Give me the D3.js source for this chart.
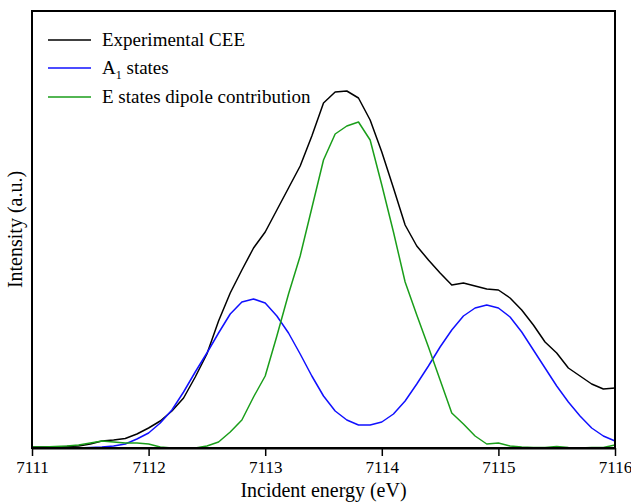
<!DOCTYPE html>
<html>
<head>
<meta charset="utf-8">
<script src="https://cdn.jsdelivr.net/npm/d3@7"></script>
<style>
  body { margin: 0; background: #fff; }
</style>
</head>
<body>
<div class="container"></div>
<script>
// energies 7111.0 .. 7116.0 in 0.1 eV steps
var energies = d3.range(0, 51).map(function(i){ return +(7111 + i * 0.1).toFixed(1); });

var experimental = [0.25,0.25,0.25,0.38,0.5,1.0,1.75,2.0,2.38,3.5,
	5.0,6.75,9.25,12.5,17.75,23.5,31.75,38.75,44.5,50.0,
	54.0,59.5,65.0,70.5,78.0,86.25,89.0,89.25,87.5,82.0,
	74.0,65.0,55.75,50.5,47.0,43.75,40.75,41.25,40.5,39.75,
	39.5,37.5,34.5,30.75,26.5,23.75,20.0,18.0,16.0,14.75,15.0];

var a1States = [0,0,0,0,0,0.13,0.25,0.5,1.0,2.25,
	3.75,6.25,9.5,14.0,19.0,23.75,28.75,33.5,36.5,37.25,
	36.25,33.0,28.75,23.5,18.0,13.0,9.25,7.0,5.75,5.75,
	6.5,8.5,11.75,16.0,20.5,25.25,29.5,33.0,35.0,35.75,
	35.0,32.75,29.0,24.5,20.0,15.5,11.5,8.0,5.0,3.0,1.75];

var eDipole = [0.25,0.25,0.38,0.5,0.75,1.25,1.75,1.5,1.25,1.25,
	1.0,0.25,0,0,0,0.5,1.5,4.0,7.0,12.75,
	18.0,28.0,38.5,48.0,60.0,72.0,78.5,80.5,81.5,77.0,
	65.75,54.0,41.5,33.25,25.25,17.0,8.75,6.0,3.0,1.0,
	1.25,0.5,0.25,0.13,0.13,0.38,0.13,0,0.13,0.13,0.75];

var xTicks = [7111,7112,7113,7114,7115,7116];

var seriesNames = ["Experimental CEE", "A1 states", "E states dipole contribution"];
var seriesColors = ["#000000", "#1010ff", "#1a9e1a"];

var W = 631, H = 502;
var margin = {left: 32, top: 11, right: 16, bottom: 54};
var innerW = W - margin.left - margin.right;
var innerH = H - margin.top - margin.bottom;
var serif = "'Liberation Serif', serif";

var svg = d3.select('.container').append('svg').attr('width', W).attr('height', H);

var x = d3.scaleLinear().domain([7111, 7116]).range([margin.left, margin.left + innerW]);
var y = d3.scaleLinear().domain([0, 109.25]).range([margin.top + innerH, margin.top]);

var allSeries = [experimental, a1States, eDipole];

var line = d3.line()
	.x(function(d, i){ return x(energies[i]); })
	.y(function(d){ return y(d); });

var plot = svg.append('g');
allSeries.forEach(function(s, k){
	plot.append('path')
		.attr('d', line(s))
		.attr('fill', 'none')
		.attr('stroke', seriesColors[k])
		.attr('stroke-width', 1.5)
		.attr('stroke-linejoin', 'round');
});

// frame
svg.append('rect')
	.attr('x', margin.left).attr('y', margin.top)
	.attr('width', innerW).attr('height', innerH)
	.attr('fill', 'none').attr('stroke', '#000').attr('stroke-width', 2);

// x axis
var xAxis = d3.axisBottom(x).tickValues(xTicks).tickFormat(d3.format('d')).tickSizeInner(8).tickSizeOuter(0).tickPadding(5);
var gx = svg.append('g').attr('transform', 'translate(0,' + (margin.top + innerH) + ')').call(xAxis);
gx.select('.domain').attr('stroke-width', 2);
gx.selectAll('.tick line').attr('stroke-width', 1.5);
gx.selectAll('.tick text')
	.style('font-family', serif)
	.attr('font-size', 17)
	.attr('fill', '#000');

// axis titles
svg.append('text')
	.attr('x', x(7113.5)).attr('y', 497)
	.attr('text-anchor', 'middle')
	.style('font-family', serif)
	.attr('font-size', 20)
	.text('Incident energy (eV)');

svg.append('text')
	.attr('transform', 'translate(22,' + (margin.top + innerH / 2) + ') rotate(-90)')
	.attr('text-anchor', 'middle')
	.style('font-family', serif)
	.attr('font-size', 20)
	.text('Intensity (a.u.)');

// legend
var legend = svg.append('g');
var legendY = [40, 68, 97];
seriesNames.forEach(function(name, k){
	legend.append('line')
		.attr('x1', 48).attr('x2', 91)
		.attr('y1', legendY[k]).attr('y2', legendY[k])
		.attr('stroke', seriesColors[k]).attr('stroke-width', 1.5);
	var t = legend.append('text')
		.attr('x', 102).attr('y', legendY[k] + 6)
		.style('font-family', serif)
		.attr('font-size', 19);
	if (k === 1) {
		t.append('tspan').text('A');
		t.append('tspan').attr('dy', 5).attr('font-size', 12).text('1');
		t.append('tspan').attr('dy', -5).text(' states');
	} else {
		t.text(name);
	}
});
</script>
</body>
</html>
